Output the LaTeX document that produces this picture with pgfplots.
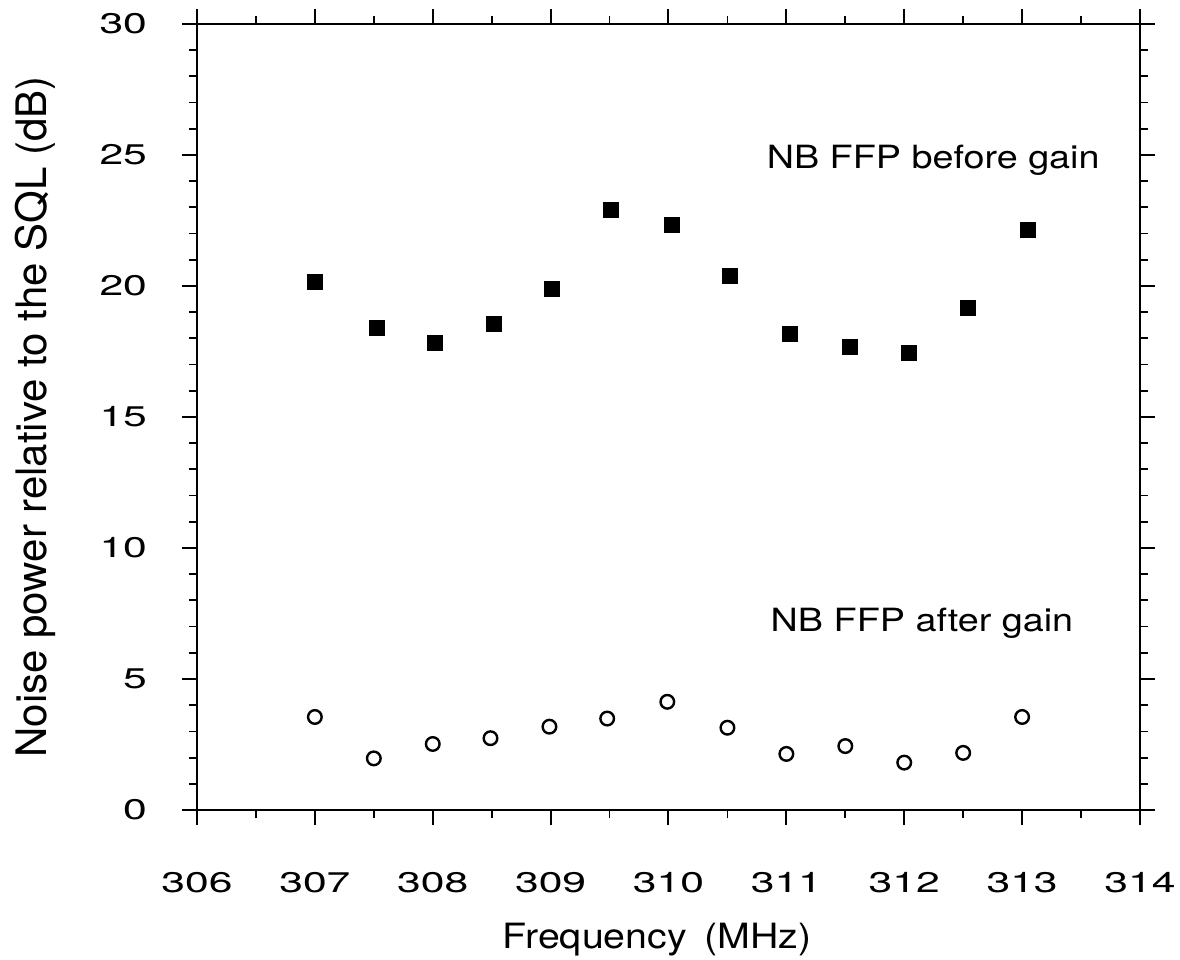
\documentclass[border=0pt]{standalone}
\usepackage{pgfplots}
\pgfplotsset{compat=1.18}
\usepackage{fontspec}
\setmainfont{TeX Gyre Heros}
\newcommand{\tl}[1]{\scalebox{1.5}[1]{#1}}
\begin{document}
\begin{tikzpicture}
\useasboundingbox (-98.5pt,-75pt) rectangle (491.5pt,405pt);
\begin{axis}[
  at={(0,0)}, anchor=south west,
  scale only axis, width=471.5pt, height=393pt,
  xmin=306, xmax=314, ymin=0, ymax=30,
  xtick={306,307,...,314}, ytick={0,5,...,30},
  minor x tick num=1, minor y tick num=4,
  tick align=outside,
  major tick length=7.5pt, minor tick length=4pt,
  every tick/.style={black, line width=1pt},
  every minor tick/.style={black, line width=0.9pt},
  axis line style={line width=1pt},
  xticklabel={\tl{\pgfmathprintnumber[assume math mode=true,1000 sep={}]{\tick}}},
  yticklabel={\tl{\pgfmathprintnumber[assume math mode=true]{\tick}}},
  tick label style={font=\fontsize{14.2pt}{16pt}\selectfont},
  xticklabel style={yshift=-20pt},
  yticklabel style={xshift=-14pt},
  xlabel={\scalebox{1.13}[1]{Frequency\hspace{0.45em}(MHz)}},
  ylabel={Noise power relative to the SQL (dB)},
  every axis x label/.style={at={(axis description cs:0.488,-0.1645)}, anchor=center, font=\fontsize{17.4pt}{20pt}\selectfont},
  every axis y label/.style={at={(axis description cs:-0.1718,0.5)}, rotate=90, anchor=center, font=\fontsize{21pt}{24pt}\selectfont},
  clip=false,
]
\addplot[only marks, mark=square*, mark size=3.75pt, black] coordinates {
(307.0,20.16) (307.53,18.40) (308.02,17.82) (308.52,18.54) (309.01,19.90)
(309.51,22.90) (310.03,22.34) (310.52,20.39) (311.03,18.19) (311.54,17.68)
(312.04,17.45) (312.54,19.15) (313.05,22.15)
};
\addplot[only marks, mark=o, mark size=3.4pt, black, mark options={line width=1.2pt}] coordinates {
(307.0,3.55) (307.5,1.97) (308.0,2.52) (308.49,2.74) (308.99,3.18)
(309.48,3.49) (309.99,4.13) (310.5,3.14) (311.0,2.14) (311.5,2.44)
(312.0,1.81) (312.5,2.18) (313.0,3.55)
};
\node[font=\fontsize{16pt}{19pt}\selectfont] at (axis cs:312.245,24.8) {\scalebox{1.18}[1]{NB FFP before gain}};
\node[font=\fontsize{16pt}{19pt}\selectfont] at (axis cs:312.15,7.14) {\scalebox{1.18}[1]{NB FFP after gain}};
\end{axis}
\end{tikzpicture}
\end{document}
